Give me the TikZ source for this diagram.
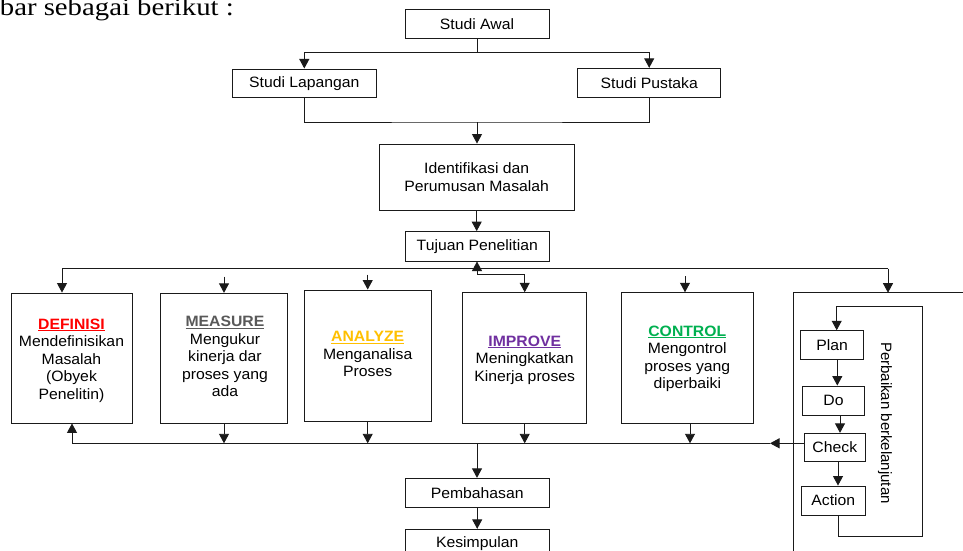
\documentclass[tikz,border=0pt]{standalone}
\usepackage{fontspec}
\setmainfont{Liberation Sans}[FakeStretch=1.05]
\newfontfamily\rotfont{Liberation Sans}
\newfontfamily\hdrfont{Liberation Serif}[FakeStretch=1.15]
\usetikzlibrary{arrows.meta}
\definecolor{cdef}{HTML}{FF0000}
\definecolor{cmea}{HTML}{595959}
\definecolor{cana}{HTML}{FFC000}
\definecolor{cimp}{HTML}{7030A0}
\definecolor{ccon}{HTML}{00B050}
\definecolor{ln}{HTML}{1A1A1A}
\newsavebox\myulbox
\newcommand\myul[1]{\sbox\myulbox{\textbf{#1}}\rlap{\raisebox{-2.2pt}{\rule{\wd\myulbox}{1.1pt}}}\usebox\myulbox}
\tikzset{
 box/.style={draw=ln, line width=0.9pt, inner sep=0pt, align=center, font=\fontsize{15}{18}\selectfont},
 txt/.style={inner sep=0pt, align=center, font=\fontsize{15}{17.5}\selectfont},
 wire/.style={draw=ln, line width=0.9pt},
 arr/.style={wire, -{Triangle[length=9.5pt,width=10pt]}},
}
\begin{document}
\begin{tikzpicture}[x=1pt,y=-1pt]
\useasboundingbox (0,0) rectangle (963,551);
\clip (0,0) rectangle (963,551);
\fill[white] (0,0) rectangle (963,551);

\node[anchor=base east, inner sep=0pt, font=\hdrfont\fontsize{25}{25}\selectfont] (hdr) at (234,15.5) {bar sebagai berikut :};

% top flow
\node[box, minimum width=144pt, minimum height=29pt] (awal) at (477,24) {Studi Awal};
\node[box, minimum width=143.5pt, minimum height=28.7pt] (lap) at (304.3,83.3) {Studi Lapangan};
\node[box, minimum width=143pt, minimum height=29.4pt] (pus) at (649.2,83) {Studi Pustaka};
\node[box, minimum width=194.7pt, minimum height=66pt] (ident) at (476.7,177) {Identifikasi dan\\Perumusan Masalah};
\node[box, minimum width=143.5pt, minimum height=29.5pt] (tuj) at (477.3,246.3) {Tujuan Penelitian};

% DMAIC boxes
\node[box, minimum width=121pt, minimum height=130pt] (def) at (71.5,358) {};
\node[box, minimum width=126.6pt, minimum height=130pt] (mea) at (224,358.3) {};
\node[box, minimum width=126.7pt, minimum height=131pt] (ana) at (367.7,355.5) {};
\node[box, minimum width=124pt, minimum height=130.6pt] (imp) at (524.7,358) {};
\node[box, minimum width=132.7pt, minimum height=130.6pt] (con) at (687.3,358) {};

% anchor=base is the baseline of the last line
\node[txt, anchor=base] (defT) at (71.5,399) {\textcolor{cdef}{\myul{DEFINISI}}\\Mendefinisikan\\Masalah\\(Obyek\\Penelitin)};
\node[txt, anchor=base] (meaT) at (225,396.7) {\textcolor{cmea}{\myul{MEASURE}}\\Mengukur\\kinerja dar\\proses yang\\ada};
\node[txt, anchor=base] (anaT) at (367.7,376.7) {\textcolor{cana}{\myul{ANALYZE}}\\Menganalisa\\Proses};
\node[txt, anchor=base] (impT) at (524.7,381) {\textcolor{cimp}{\myul{IMPROVE}}\\Meningkatkan\\Kinerja proses};
\node[txt, anchor=base] (conT) at (687.3,388.5) {\textcolor{ccon}{\myul{CONTROL}}\\Mengontrol\\proses yang\\diperbaiki};

% PDCA
\coordinate (bbTL) at (793.3,292.7);
\draw[wire] (970,292.7) -- (bbTL) -- (793.3,560);
\node[box, minimum width=62.6pt, minimum height=28.6pt] (plan) at (832,345) {Plan};
\node[box, minimum width=61.6pt, minimum height=29pt] (do) at (833.5,400.5) {Do};
\node[box, minimum width=61.7pt, minimum height=28.4pt] (check) at (834.8,447.5) {Check};
\node[box, minimum width=63.3pt, minimum height=29pt] (action) at (833.3,500.5) {Action};
\node[txt, rotate=-90, font=\rotfont\fontsize{15}{18}\selectfont] (perb) at (885,423) {Perbaikan berkelanjutan};

% bottom
\node[box, minimum width=144.3pt, minimum height=29pt] (pem) at (477.2,492.8) {Pembahasan};
\node[box, minimum width=144.3pt, minimum height=29pt] (kes) at (477.2,543.8) {Kesimpulan};

% connectors top
\coordinate (a1) at (477,52);
\draw[wire] (awal.south) -- (a1);
\draw[arr] (a1) -| (lap.north);
\draw[arr] (a1) -| (pus.north);
\coordinate (a2) at (477,122);
\draw[wire] (lap.south) |- (a2) -| (pus.south);
\draw[arr] (a2) -- (a2 |- ident.north);
\draw[arr] (ident.south) -- (ident.south |- tuj.north);

% distribution line
\coordinate (tL) at (62,268.5);
\coordinate (tR) at (888,268.5);
\coordinate (tM) at (477,268.5);
\draw[wire] (tL) -- (tR);
\draw[arr] (tM) -- (tM |- tuj.south);
\draw[arr] (tL) -- (tL |- def.north);
\draw[arr] (tR) -- (tR |- bbTL);
\coordinate (mS) at (224,276.5);
\draw[arr] (mS) -- (mS |- mea.north);
\coordinate (aS) at (367.7,274.5);
\draw[arr] (aS) -- (aS |- ana.north);
\draw[arr] (tM) -- ++(0,6) -| (imp.north);
\coordinate (cS) at (685,276);
\draw[arr] (cS) -- (cS |- con.north);

% collector line
\coordinate (bL) at (72,443.3);
\coordinate (bA) at (770,443.3);
\coordinate (bM) at (477,443.3);
\draw[arr] (check.west |- bA) -- (bA);
\draw[wire] (bA) -- (bL);
\draw[arr] (bL) -- (bL |- def.south);
\draw[arr] (mea.south) -- (mea.south |- bL);
\draw[arr] (ana.south) -- (ana.south |- bL);
\draw[arr] (imp.south) -- (imp.south |- bL);
\draw[arr] (690,0 |- con.south) -- (690,443.3);
\draw[arr] (bM) -- (bM |- pem.north);
\draw[arr] (pem.south) -- (kes.north);

% PDCA arrows
\draw[arr] (837.3,0 |- plan.south) -- (837.3,0 |- do.north);
\draw[arr] (840,0 |- do.south) -- (840,0 |- check.north);
\draw[arr] (838,0 |- check.south) -- (838,0 |- action.north);
\draw[arr] (838,0 |- action.south) -- (838,536) -- (922.7,536) -- (922.7,306.7) -- (836.7,306.7) -- (836.7,0 |- plan.north);
\end{tikzpicture}
\end{document}
